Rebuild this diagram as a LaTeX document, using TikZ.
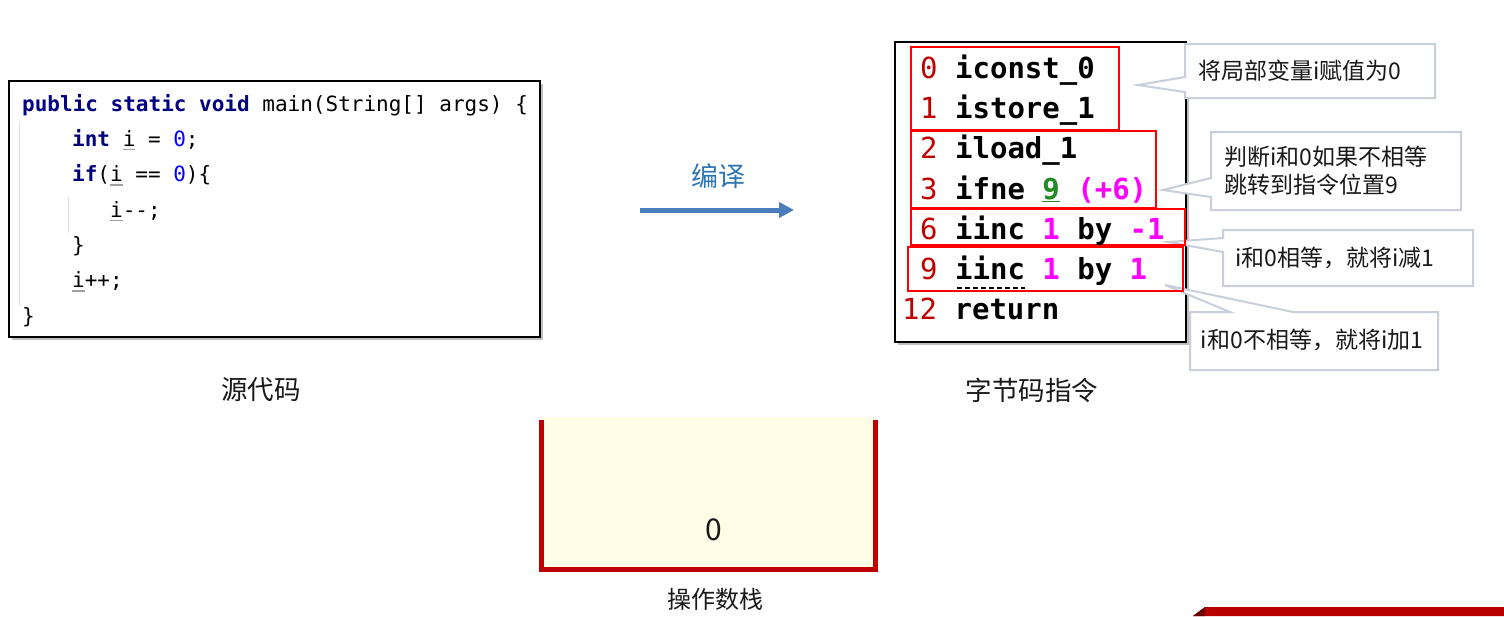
\documentclass[tikz,border=0pt]{standalone}
\usepackage{fontspec}
\setmonofont{DejaVu Sans Mono}
\newfontfamily\cjk{Noto Sans CJK SC}
\usetikzlibrary{arrows.meta}
\definecolor{kw}{HTML}{000080}
\definecolor{num}{HTML}{0000FF}
\definecolor{ulgray}{HTML}{A0A0A0}
\definecolor{guide}{HTML}{E0E0E0}
\definecolor{bcred}{HTML}{C00000}
\definecolor{bcgreen}{HTML}{228B22}
\definecolor{bcmag}{HTML}{FF00FF}
\definecolor{callgray}{HTML}{C8CFDA}
\definecolor{arrowblue}{HTML}{4A7EBB}
\definecolor{textblue}{HTML}{2E75B6}
\definecolor{stackred}{HTML}{C00000}
\definecolor{stackfill}{HTML}{FFFDE6}
\definecolor{bannerred}{HTML}{B80000}
\definecolor{bannerdark}{HTML}{6E0000}
\newcommand\uvar{\rlap{\textcolor{ulgray}{\rule[-4pt]{0.6em}{1.2pt}}}i}
\tikzset{
  codetxt/.style={anchor=base west, inner sep=0, font=\ttfamily\fontsize{21}{25}\selectfont},
  bctxt/.style={anchor=base west, inner sep=0, font=\ttfamily\fontsize{29}{34}\selectfont},
  redbox/.style={draw=red, line width=2},
  callout/.style={draw=callgray, line width=2, fill=white},
  calltxt/.style={inner sep=0, font=\cjk\fontsize{23}{28}\selectfont, text=black!90, align=left},
  label/.style={inner sep=0, font=\cjk\fontsize{26.5}{31}\selectfont, text=black!90},
}
\begin{document}
\begin{tikzpicture}[x=1pt,y=-1pt]
\useasboundingbox (0,0) rectangle (1504,616);
% ---------- source code box ----------
\fill[black!25] (12,84) rectangle (543,340);
\draw[line width=2, fill=white] (9,81) rectangle (540,337);
\draw[guide, line width=1] (19,122) -- (19,306);
\draw[guide, line width=1] (68,197) -- (68,233);
\node[codetxt] (c1) at (22,111) {\textbf{\color{kw}public static void} main(String[] args) \{};
\node[codetxt] (c2) at (72,146.3) {\textbf{\color{kw}int} \uvar{} = {\color{num}0};};
\node[codetxt] (c3) at (72,181.6) {\textbf{\color{kw}if}(\uvar{} == {\color{num}0})\{};
\node[codetxt] (c4) at (110,217) {\uvar{}{-}{-};};
\node[codetxt] (c5) at (72,252.3) {\}};
\node[codetxt] (c6) at (72,287.6) {\uvar{}++;};
\node[codetxt] (c7) at (22,323) {\}};
\node[label] (srclbl) at (261,390) {源代码};
% ---------- compile arrow ----------
\coordinate (arrS) at (640,210);
\coordinate (arrE) at (794,210);
\draw[arrowblue, line width=5, -{Triangle[length=15pt,width=15pt]}] (arrS) -- (arrE);
\node[inner sep=0, font=\cjk\fontsize{27}{32}\selectfont, text=textblue] (cmp) at (718,176) {编译};
% ---------- bytecode box ----------
\fill[black!25] (898,45) rectangle (1189,345);
\draw[line width=1.5, fill=white] (895,42) rectangle (1186,342);
% ---------- callouts ----------
\draw[callout] (1185,44) -- (1435,44) -- (1435,98) -- (1185,98) -- (1185,92) -- (1138,85) -- (1185,77) -- cycle;
\draw[callout] (1211,132) -- (1461,132) -- (1461,210) -- (1211,210) -- (1211,197) -- (1163,190) -- (1211,178) -- cycle;
\draw[callout] (1223,230) -- (1473,230) -- (1473,286) -- (1223,286) -- (1223,252) -- (1168,242) -- (1223,238) -- cycle;
\draw[callout] (1190,312) -- (1230,312) -- (1165,285) -- (1293,312) -- (1438,312) -- (1438,370) -- (1190,370) -- cycle;
\node[calltxt] (k1) at (1300,71) {将局部变量i赋值为0};
\node[calltxt] (k2) at (1326,171) {判断i和0如果不相等\\跳转到指令位置9};
\node[calltxt] (k3) at (1335,258) {i和0相等，就将i减1};
\node[calltxt] (k4) at (1312,340) {i和0不相等，就将i加1};
% ---------- red group boxes ----------
\draw[redbox] (911,47) rectangle (1119,130);
\draw[redbox] (911,131) rectangle (1156,208);
\draw[redbox] (911,209) rectangle (1185,245);
\draw[redbox] (908,247) rectangle (1183,291);
% ---------- bytecode text ----------
\node[bctxt] (b0) at (920,78) {{\color{bcred}0} \textbf{iconst\_0}};
\node[bctxt] (b1) at (920,118) {{\color{bcred}1} \textbf{istore\_1}};
\node[bctxt] (b2) at (920,158) {{\color{bcred}2} \textbf{iload\_1}};
\node[bctxt] (b3) at (920,199) {{\color{bcred}3} \textbf{ifne} \textbf{\color{bcgreen}\underline{9}} \textbf{\color{bcmag}(+6)}};
\node[bctxt] (b6) at (920,239) {{\color{bcred}6} \textbf{iinc} \textbf{\color{bcmag}1} \textbf{by} \textbf{\color{bcmag}-1}};
\node[bctxt] (b9) at (920,279) {{\color{bcred}9} \textbf{iinc} \textbf{\color{bcmag}1} \textbf{by} \textbf{\color{bcmag}1}};
\node[bctxt] (b12) at (902,319) {{\color{bcred}12} \textbf{return}};
\draw[line width=1.2, dash pattern=on 5pt off 3pt] (957,288) -- (1025,288);
\node[label] (bclbl) at (1032,390) {字节码指令};
% ---------- operand stack ----------
\fill[stackfill] (541,417) rectangle (876,569);
\draw[stackred, line width=5] (541,420) -- (541,569) -- (875,569) -- (875,420);
\node[inner sep=0, font=\cjk\fontsize{30}{36}\selectfont, text=black!90] (top) at (714,530) {0};
\node[inner sep=0, font=\cjk\fontsize{24}{29}\selectfont, text=black!90] (stlbl) at (715,599) {操作数栈};
% ---------- banner fragment ----------
\fill[bannerred] (1193,616) -- (1205,607) -- (1504,607) -- (1504,616) -- cycle;
\fill[bannerdark] (1193,616) -- (1205,607) -- (1205,616) -- cycle;
\end{tikzpicture}
\end{document}
